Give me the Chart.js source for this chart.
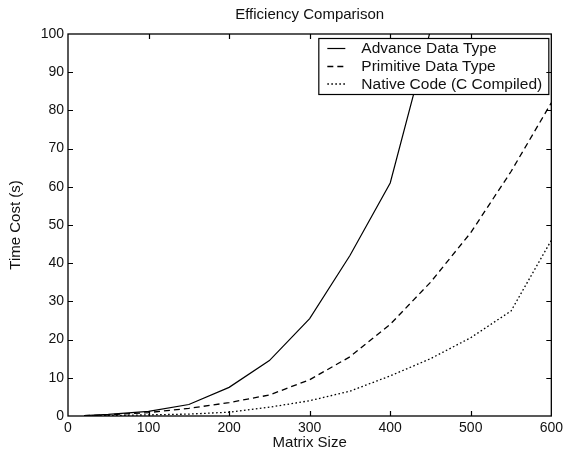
<!DOCTYPE html>
<html>
<head>
<meta charset="utf-8">
<script src="https://cdn.jsdelivr.net/npm/chart.js@4/dist/chart.umd.min.js"></script>
<style>
  html, body { margin: 0; padding: 0; background: #fff; }
  #wrap { width: 567px; height: 453px; }
</style>
</head>
<body>
<div id="wrap"><canvas id="c" width="567" height="453"></canvas></div>
<script>
// ---- data ----
const chartTitle = 'Efficiency Comparison';
const xAxisTitle = 'Matrix Size';
const yAxisTitle = 'Time Cost (s)';
const matrixSizes = [20, 50, 100, 150, 200, 250, 300, 350, 400, 450, 500, 550, 600];
const advanceLabel = 'Advance Data Type';
const advanceCost = [0.1, 0.4, 1.2, 3, 7.5, 14.5, 25.5, 42, 61, 101];
const primitiveLabel = 'Primitive Data Type';
const primitiveCost = [0.1, 0.3, 0.9, 2, 3.5, 5.5, 9.5, 15.5, 24, 35, 48, 64, 82];
const nativeLabel = 'Native Code (C Compiled)';
const nativeCost = [0.05, 0.1, 0.3, 0.5, 1, 2.3, 4, 6.5, 10.5, 15, 20.5, 27.5, 46];
const xTickValues = [0, 100, 200, 300, 400, 500, 600];
const yTickValues = [0, 10, 20, 30, 40, 50, 60, 70, 80, 90, 100];

const FONT = "'Liberation Sans', Arial, Helvetica, sans-serif";
const INK = '#111';

function toPoints(values) {
  return values.map((v, i) => ({ x: matrixSizes[i], y: v }));
}

// Legend box drawn inside plot (MATLAB style), over the lines
const boxLegend = {
  id: 'boxLegend',
  afterDatasetsDraw(chart) {
    const ctx = chart.ctx;
    const a = chart.chartArea;
    const w = 230, h = 56;
    const left = a.right - 3 - w, top = a.top + 4;
    ctx.save();
    ctx.fillStyle = '#fff';
    ctx.fillRect(left, top, w, h);
    ctx.strokeStyle = '#000';
    ctx.lineWidth = 1.2;
    ctx.setLineDash([]);
    ctx.strokeRect(left + 0.5, top + 0.5, w, h);
    const rows = [top + 10, top + 28, top + 45.5];
    chart.data.datasets.forEach((ds, i) => {
      const y = rows[i];
      ctx.beginPath();
      ctx.setLineDash(ds.borderDash || []);
      ctx.lineWidth = ds.borderWidth;
      ctx.strokeStyle = ds.borderColor;
      ctx.moveTo(left + 9, y + 0.5);
      ctx.lineTo(left + 27, y + 0.5);
      ctx.stroke();
      ctx.setLineDash([]);
      ctx.fillStyle = INK;
      ctx.font = '15.5px ' + FONT;
      ctx.textBaseline = 'middle';
      ctx.textAlign = 'left';
      ctx.fillText(ds.label, left + 43, y + 1);
    });
    ctx.restore();
  }
};

// Box frame with inward tick marks on all four sides
const frameTicks = {
  id: 'frameTicks',
  afterDraw(chart) {
    const ctx = chart.ctx;
    const a = chart.chartArea;
    const xs = chart.scales.x, ys = chart.scales.y;
    const L = 5;
    ctx.save();
    ctx.strokeStyle = '#000';
    ctx.lineWidth = 1.3;
    ctx.setLineDash([]);
    ctx.strokeRect(a.left, a.top, a.right - a.left, a.bottom - a.top);
    ctx.beginPath();
    xTickValues.forEach(v => {
      const px = Math.round(xs.getPixelForValue(v)) + 0.5;
      if (v === xs.min || v === xs.max) return;
      ctx.moveTo(px, a.bottom); ctx.lineTo(px, a.bottom - L);
      ctx.moveTo(px, a.top); ctx.lineTo(px, a.top + L);
    });
    yTickValues.forEach(v => {
      const py = Math.round(ys.getPixelForValue(v)) + 0.5;
      if (v === ys.min || v === ys.max) return;
      ctx.moveTo(a.left, py); ctx.lineTo(a.left + L, py);
      ctx.moveTo(a.right, py); ctx.lineTo(a.right - L, py);
    });
    ctx.lineWidth = 1.2;
    ctx.stroke();
    ctx.restore();
  }
};

new Chart(document.getElementById('c'), {
  type: 'line',
  data: {
    datasets: [
      { label: advanceLabel, data: toPoints(advanceCost), borderColor: '#000', borderWidth: 1.2, borderDash: [], pointRadius: 0, tension: 0, fill: false },
      { label: primitiveLabel, data: toPoints(primitiveCost), borderColor: '#000', borderWidth: 1.3, borderDash: [6, 4], pointRadius: 0, tension: 0, fill: false },
      { label: nativeLabel, data: toPoints(nativeCost), borderColor: '#000', borderWidth: 1.3, borderDash: [1.6, 2.4], pointRadius: 0, tension: 0, fill: false }
    ]
  },
  options: {
    responsive: false,
    devicePixelRatio: 1,
    animation: false,
    events: [],
    layout: { padding: { left: 0, right: 13, top: 0, bottom: 0 } },
    plugins: {
      legend: { display: false },
      tooltip: { enabled: false },
      title: {
        display: true,
        text: chartTitle,
        fullSize: false,
        color: INK,
        font: { family: FONT, size: 15, weight: 'normal' },
        padding: { top: 6, bottom: 10 }
      }
    },
    scales: {
      x: {
        type: 'linear',
        min: 0,
        max: 600,
        afterBuildTicks(scale) { scale.ticks = xTickValues.map(v => ({ value: v })); },
        afterFit(scale) { scale.height = 37; },
        ticks: { color: INK, font: { family: FONT, size: 14 }, padding: 4, maxRotation: 0 },
        grid: { display: false, drawTicks: false },
        border: { display: false },
        title: { display: true, text: xAxisTitle, color: INK, font: { family: FONT, size: 15 }, padding: { top: 0, bottom: 1 } }
      },
      y: {
        type: 'linear',
        min: 0,
        max: 100,
        afterBuildTicks(scale) { scale.ticks = yTickValues.map(v => ({ value: v })); },
        afterFit(scale) { scale.width = 68; },
        ticks: { color: INK, font: { family: FONT, size: 14 }, padding: 4 },
        grid: { display: false, drawTicks: false },
        border: { display: false },
        title: { display: true, text: yAxisTitle, color: INK, font: { family: FONT, size: 15 }, padding: { top: 7, bottom: 0 } }
      }
    }
  },
  plugins: [boxLegend, frameTicks]
});
</script>
</body>
</html>
